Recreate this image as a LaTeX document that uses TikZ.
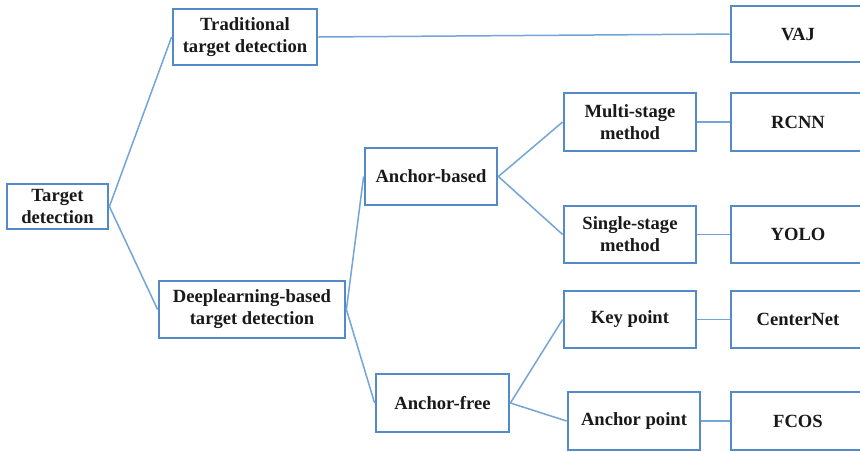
\documentclass[tikz,border=0pt]{standalone}
\usepackage{fontspec}
\setmainfont{Liberation Serif}
\definecolor{boxblue}{RGB}{84,138,200}
\definecolor{lineblue}{RGB}{115,165,215}
\begin{document}
\begin{tikzpicture}[x=1pt,y=-1pt,
  box/.style={draw=boxblue, line width=2.8pt, fill=white, align=center, inner sep=0pt,
    font=\fontsize{18.6}{22}\selectfont\bfseries, text=black!90},
  conn/.style={draw=lineblue, line width=1.5pt}]
\useasboundingbox (0,0) rectangle (860,451);
\clip (0,0) rectangle (860,451);
\fill[white] (0,0) rectangle (860,451);
% nodes
\node[box, minimum width=101pt, minimum height=45pt] (td) at (57.5,206.5) {Target\\detection};
\node[box, minimum width=144pt, minimum height=56pt] (trad) at (245,37) {Traditional\\target detection};
\node[box, minimum width=134pt, minimum height=56pt] (vaj) at (798,34) {VAJ};
\node[box, minimum width=186pt, minimum height=57pt] (dl) at (252,309.5) {Deeplearning-based\\target detection};
\node[box, minimum width=132pt, minimum height=57pt] (ab) at (431,176.5) {Anchor-based};
\node[box, minimum width=133pt, minimum height=58pt] (af) at (442.5,403) {Anchor-free};
\node[box, minimum width=132pt, minimum height=58pt] (ms) at (630,122) {Multi-stage\\method};
\node[box, minimum width=134pt, minimum height=58pt] (rcnn) at (798,122) {RCNN};
\node[box, minimum width=132pt, minimum height=57pt] (ss) at (630,234.5) {Single-stage\\method};
\node[box, minimum width=134pt, minimum height=57pt] (yolo) at (798,234.5) {YOLO};
\node[box, minimum width=132pt, minimum height=57pt] (kp) at (630,319.5) {Key point};
\node[box, minimum width=134pt, minimum height=57pt] (cn) at (798,319.5) {CenterNet};
\node[box, minimum width=132pt, minimum height=58pt] (ap) at (634,421) {Anchor point};
\node[box, minimum width=134pt, minimum height=58pt] (fcos) at (798,421) {FCOS};
% connectors
\draw[conn] (td.east) -- (trad.west);
\draw[conn] (td.east) -- (dl.west);
\draw[conn] (trad.east) -- (vaj.west);
\draw[conn] (dl.east) -- (ab.west);
\draw[conn] (dl.east) -- (af.west);
\draw[conn] (ab.east) -- (ms.west);
\draw[conn] (ab.east) -- (ss.west);
\draw[conn] (ms.east) -- (rcnn.west);
\draw[conn] (ss.east) -- (yolo.west);
\draw[conn] (af.east) -- (kp.west);
\draw[conn] (af.east) -- (ap.west);
\draw[conn] (kp.east) -- (cn.west);
\draw[conn] (ap.east) -- (fcos.west);
\end{tikzpicture}
\end{document}
